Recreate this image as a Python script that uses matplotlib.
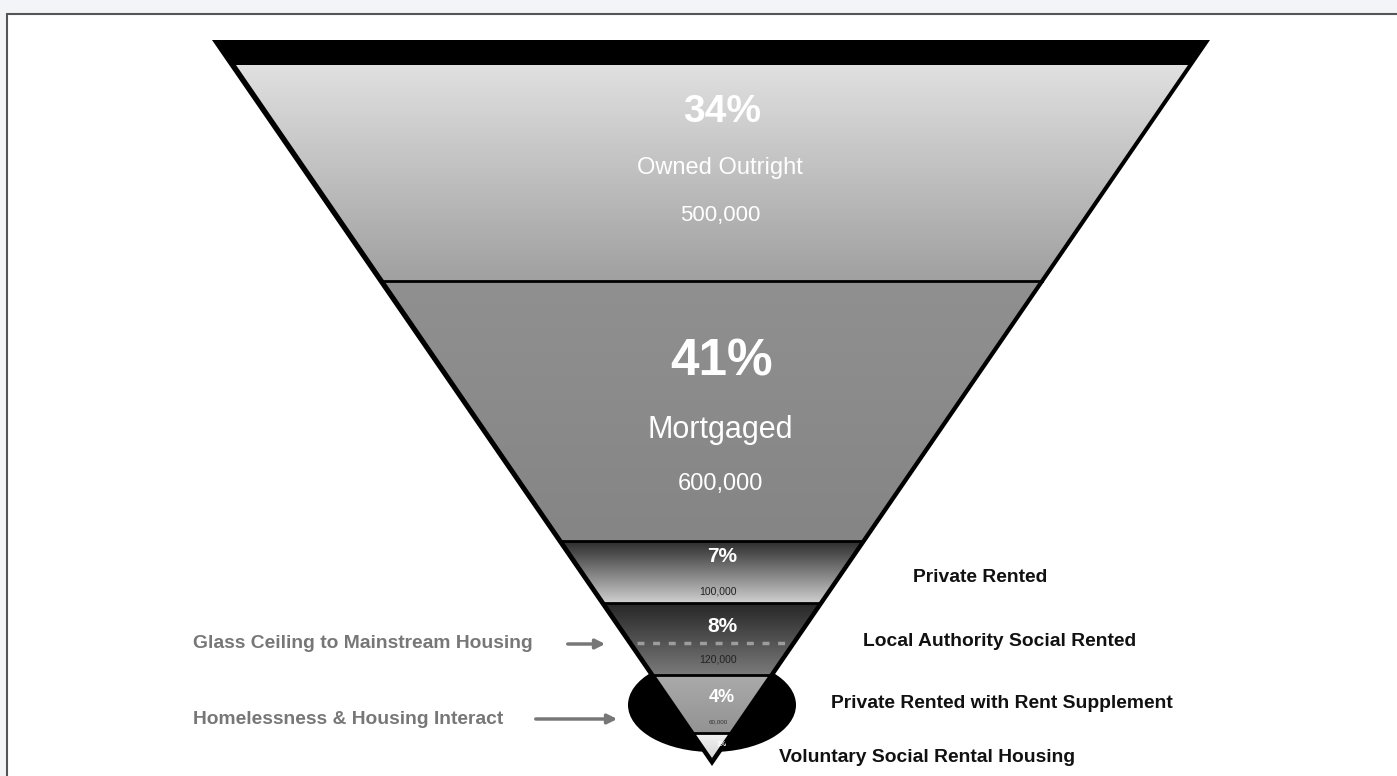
import numpy as np
import matplotlib
matplotlib.use("Agg")
import matplotlib.pyplot as plt
from matplotlib.patches import Polygon, Ellipse, Rectangle

plt.rcParams['font.family'] = ['Liberation Sans', 'DejaVu Sans']

# tenure data, top to bottom of the funnel
shares = ["34%", "41%", "7%", "8%", "4%", "1%"]
tenures = ["Owned Outright", "Mortgaged", "", "", "", ""]
households = ["500,000", "600,000", "100,000", "120,000", "60,000", ""]
side_labels = ["Private Rented", "Local Authority Social Rented",
               "Private Rented with Rent Supplement",
               "Voluntary Social Rental Housing"]
notes = ["Glass Ceiling to Mainstream Housing", "Homelessness & Housing Interact"]

# layout (pixel space)
edges = [65, 281, 541, 603, 675, 733, 758]
top_colors = ["#e0e0e0", "#909090", "#2c2c2c", "#262626", "#aaaaaa", "#f2f2f2"]
bot_colors = ["#a0a0a0", "#858585", "#cfcfcf", "#7a7a7a", "#939393", "#d8d8d8"]

fig = plt.figure(figsize=(13.97, 7.76), dpi=100)
fig.patch.set_facecolor("#f3f4f8")
ax = fig.add_axes([0, 0, 1, 1])
ax.set_xlim(0, 1397)
ax.set_ylim(776, 0)
ax.axis("off")

# white panel with border
ax.add_patch(Rectangle((7, 14), 1400, 780, facecolor="white", edgecolor="#555555", lw=1.5))

cx, apex = 712, 758
def half(y):
    return 476 * (apex - y) / (apex - 65)

# black ellipse behind the bottom of the funnel
ax.add_patch(Ellipse((cx, 705), 168, 94, facecolor="black", edgecolor="none"))
# black outer rim
ax.add_patch(Polygon([(212, 40), (1210, 40), (cx, 766)], closed=True,
                     facecolor="black", edgecolor="none"))

def hex2rgb(h):
    return np.array(matplotlib.colors.to_rgb(h))

for i in range(len(shares)):
    y0, y1 = edges[i], edges[i + 1]
    pts = [(cx - half(y0), y0), (cx + half(y0), y0), (cx + half(y1), y1), (cx - half(y1), y1)]
    poly = Polygon(pts, closed=True, facecolor="none", edgecolor="none")
    ax.add_patch(poly)
    t = np.linspace(0, 1, 200)[:, None]
    grad = (1 - t) * hex2rgb(top_colors[i]) + t * hex2rgb(bot_colors[i])
    img = ax.imshow(grad[:, None, :].repeat(2, axis=1), extent=(cx - half(y0), cx + half(y0), y1, y0),
                    origin="upper", aspect="auto", interpolation="bilinear", zorder=2)
    img.set_clip_path(poly)
    if i > 0:
        ax.plot([cx - half(y0) - 2, cx + half(y0) + 2], [y0, y0], color="black", lw=2, zorder=3)

ax.set_xlim(0, 1397)
ax.set_ylim(776, 0)

# dashed glass ceiling line inside the 8% band
yg = 643
ax.plot([cx - half(yg) + 4, cx + half(yg) - 4], [yg, yg], color="#b0b0b0", lw=2.5,
        ls=(0, (2, 2.5)), zorder=3, alpha=0.8)

# labels inside the funnel
pct_pos = [112, 362, 557, 627, 697, 744]
pct_size = [28, 37, 15, 15, 13, 5]
for i, s in enumerate(shares):
    ax.text(cx + 10, pct_pos[i], s, color="white", fontsize=pct_size[i],
            fontweight="bold", ha="center", va="center", zorder=4)
name_pos = {0: (168, 17), 1: (430, 22)}
for i, (y, fs) in name_pos.items():
    ax.text(cx + 8, y, tenures[i], color="white", fontsize=fs, ha="center", va="center", zorder=4)
count_style = {0: (216, 16, "white"), 1: (484, 17, "white"), 2: (591, 7.5, "#222222"),
               3: (660, 7.5, "#222222"), 4: (722, 4.5, "#333333")}
for i, (y, fs, c) in count_style.items():
    ax.text(cx + 8 if i < 2 else cx + 6, y, households[i], color=c, fontsize=fs,
            ha="center", va="center", zorder=4)

# labels to the right
side_pos = [(980, 578), (1000, 641), (1002, 703), (927, 757)]
for lab, (x, y) in zip(side_labels, side_pos):
    ax.text(x, y, lab, fontsize=13.9, fontweight="bold", color="#111111", ha="center", va="center")

# notes with arrows on the left
note_pos = [(193, 644, 565, 608), (193, 719, 533, 620)]
for lab, (x, y, a0, a1) in zip(notes, note_pos):
    ax.text(x, y, lab, fontsize=13.9, fontweight="bold", color="#777777", ha="left", va="center")
    ax.annotate("", xy=(a1, y), xytext=(a0, y),
                arrowprops=dict(arrowstyle="-|>", color="#777777", lw=2.5, mutation_scale=14))

fig.savefig("out.png", dpi=100, facecolor=fig.get_facecolor())
